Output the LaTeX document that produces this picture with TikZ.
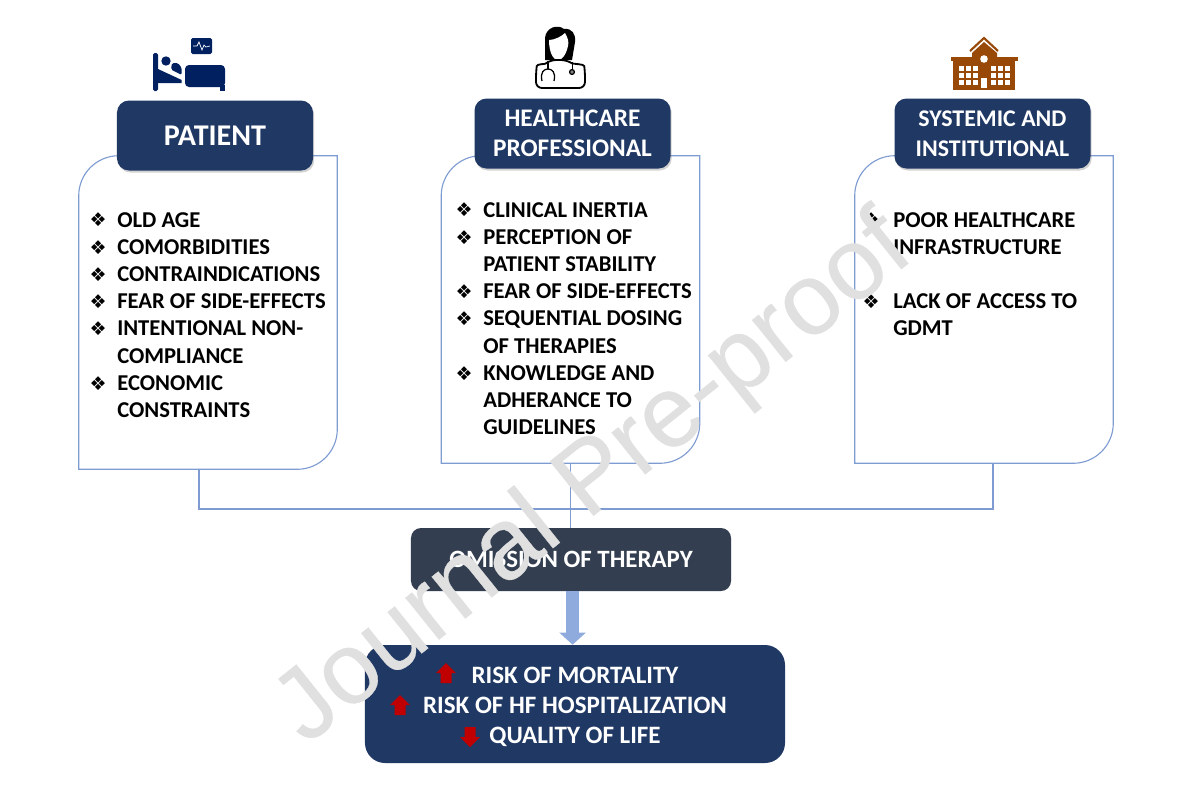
\documentclass[tikz,border=0pt]{standalone}
\usepackage{fontspec}
\setmainfont{Carlito}
\newfontfamily\symfont{DejaVu Sans}
\newfontfamily\stampfont[FakeBold=0.3]{Liberation Sans}
\usetikzlibrary{arrows.meta,shadows}
\definecolor{headblue}{HTML}{1F3864}
\definecolor{slatebox}{HTML}{333F50}
\definecolor{cardblue}{HTML}{7F9CD2}
\definecolor{flowblue}{HTML}{8FAADC}
\definecolor{iconnavy}{HTML}{002060}
\definecolor{brick}{HTML}{984807}
\definecolor{alarmred}{HTML}{C00000}
\definecolor{stampgrey}{HTML}{E0E0E0}
\tikzset{
  cardbox/.style={minimum width=64.5mm,inner sep=0pt},
  cardline/.style={cardblue,line width=0.8pt},
  headbox/.style={fill=headblue,rounded corners=3mm,minimum width=49mm,minimum height=17.5mm,
    inner sep=0pt,align=center,text=white,font=\bfseries\fontsize{18}{21.3}\selectfont,
    drop shadow={shadow xshift=0.3mm,shadow yshift=-0.5mm,opacity=0.35}},
  listtext/.style={anchor=north west,inner sep=0pt,align=left,text=black,
    font=\bfseries\fontsize{16.1}{19.35}\selectfont},
  stamp/.style={text=stampgrey,font=\stampfont\fontsize{72}{72}\selectfont},
}
\newcommand{\dia}[1][6.5mm]{\makebox[#1][l]{\raisebox{0.2pt}{\hspace*{-0.4mm}\symfont\fontsize{13.5}{13.5}\selectfont ❖}}}
\newcommand{\cont}{\hspace*{6.5mm}}
% card outline, two corners round
\newcommand{\cardoutline}[1]{
  \draw[cardline] (#1.north) -- (#1.north east) [rounded corners=10mm] -- (#1.south east)
    [sharp corners] -- (#1.south west) [rounded corners=10mm] -- (#1.north west) [sharp corners] -- (#1.north);
}
\newcommand{\redarrow}[3]{
  \fill[alarmred,shift={(#1,#2)},rotate=#3] (0,-10) -- (10,0) -- (5.5,0) -- (5.5,10) -- (-5.5,10) -- (-5.5,0) -- (-10,0) -- cycle;
}
\begin{document}
\begin{tikzpicture}[x=0.25mm,y=-0.25mm]
  \useasboundingbox[fill=white] (0,0) rectangle (1200,793);

  % Cards
  \node[cardbox,minimum height=78.25mm] (patientcard) at (208,312.5) {};
  \node[cardbox,minimum height=76.75mm] (profcard) at (570.5,309.5) {};
  \node[cardbox,minimum height=76.75mm] (syscard) at (984,309.5) {};
  \cardoutline{patientcard}
  \cardoutline{profcard}
  \cardoutline{syscard}

  % Headers
  \node[headbox,font=\bfseries\fontsize{21.4}{24}\selectfont] (patienthead) at (215,135.5) {PATIENT};
  \node[headbox] (profhead) at (572.5,133.5) {HEALTHCARE\\PROFESSIONAL};
  \node[headbox,font=\bfseries\fontsize{17}{21.3}\selectfont] (syshead) at (992.5,133.5) {SYSTEMIC AND\\INSTITUTIONAL};

  % Lists
  \node[listtext] (patientlist) at (91,212) {\dia OLD AGE\\\dia COMORBIDITIES\\\dia CONTRAINDICATIONS\\\dia FEAR OF SIDE-EFFECTS\\\dia INTENTIONAL NON-\\\cont COMPLIANCE\\\dia ECONOMIC\\\cont CONSTRAINTS};
  \node[listtext] (proflist) at (457,202) {\dia CLINICAL INERTIA\\\dia PERCEPTION OF\\\cont PATIENT STABILITY\\\dia FEAR OF SIDE-EFFECTS\\\dia SEQUENTIAL DOSING\\\cont OF THERAPIES\\\dia KNOWLEDGE AND\\\cont ADHERANCE TO\\\cont GUIDELINES};
  \node[listtext] (syslist) at (864,212) {\dia[7.25mm]POOR HEALTHCARE\\\hspace*{7.25mm}INFRASTRUCTURE\\[19.35pt]\dia[7.25mm]LACK OF ACCESS TO\\\hspace*{7.25mm}GDMT};

  % Lower boxes
  \node[fill=slatebox,rounded corners=2.5mm,minimum width=80mm,minimum height=15.75mm,inner sep=0pt,
    text=white,font=\bfseries\fontsize{17.7}{20}\selectfont] (omitbox) at (571,559.5) {OMISSION OF THERAPY};
  \node[fill=headblue,rounded corners=5mm,minimum width=105mm,minimum height=29.5mm,inner sep=0pt] (outcomebox) at (575,704) {};
  \node[align=center,inner sep=0pt,text=white,font=\bfseries\fontsize{17.8}{21.3}\selectfont] (outcometext) at (575,706.5) {RISK OF MORTALITY\\RISK OF HF HOSPITALIZATION\\QUALITY OF LIFE};
  \redarrow{446}{673}{0}
  \redarrow{400}{705}{0}
  \redarrow{470}{737}{180}

  % Connectors
  \coordinate (busleft) at (patientcard.south -| 199,0);
  \coordinate (busright) at (syscard.south -| 993,0);
  \draw[cardline] (busleft) -- (199,509) -- (993,509) -- (busright);
  \draw[cardline] (profcard.south) -- (profcard.south |- omitbox.north);
  \draw[flowblue,line width=3.25mm,-{Triangle[width=6.4mm,length=3mm]}] ([xshift=0.4mm]omitbox.south) -- ([xshift=0.4mm]omitbox.south |- outcomebox.north);

  % Bed icon
  \fill[iconnavy,rounded corners=0.4mm] (191,38) rectangle (212,54);
  \draw[white,line width=0.5pt] (193,46) -- (197,46) -- (199,42) -- (202,50) -- (204,45) -- (206,47) -- (210,46);
  \fill[iconnavy,rounded corners=0.4mm] (153,53) rectangle (158,91);
  \fill[iconnavy] (166,61) circle (4.7);
  \fill[iconnavy] (158,69) -- (181.7,80) -- (181.7,83) -- (158,83) -- cycle;
  \fill[iconnavy,rounded corners=0.4mm] (172,63) -- (178,63) -- (181.7,68) -- (181.7,75) -- (171,69.5) -- cycle;
  \fill[iconnavy,rounded corners=1mm] (185,65) rectangle (225,87);
  \fill[iconnavy] (220,85) rectangle (225,91);

  % Doctor icon
  \fill[black] (545,60) -- (545,38) .. controls (546,27) and (558,24) .. (564,29) .. controls (572,28) and (576,34) .. (575,42) -- (572,60) -- cycle;
  \fill[white] (549,40) .. controls (555,40) and (562,36) .. (565,33) .. controls (568,38) and (569,42) .. (568,46) .. controls (566,55) and (562,60) .. (558,60) .. controls (553,60) and (549,52) .. (549,40) -- cycle;
  \draw[black,line width=1.3pt,fill=white,rounded corners=1.5mm] (536,88) -- (536,72) .. controls (537,64) and (545,64) .. (550,60) -- (567,60) .. controls (573,64) and (584,64) .. (585,72) -- (585,88) -- cycle;
  \draw[black,line width=0.9pt] (548,61) -- (548,69);
  \draw[black,line width=0.9pt] (542,81) .. controls (540,72) and (544,69) .. (548,69) .. controls (552,69) and (556,72) .. (554,81);
  \draw[black,line width=0.7pt] (572,62) -- (572,69);
  \draw[black,line width=0.9pt,fill=gray] (572,72) circle (2.4);

  % Hospital icon
  \fill[brick] (951,57) rectangle (1018,61);
  \fill[brick] (953,60) rectangle (1015,90);
  \fill[brick] (972,53) -- (984,42) -- (997,53) -- (997,62) -- (972,62) -- cycle;
  \draw[brick,line width=1.5pt] (970,51) -- (984,38) -- (998,51);
  \fill[white] (984,59) circle (3.8);
  \foreach \colx in {959,966,973,991,998,1005}
    \foreach \rowy in {66,73,80}
      \fill[white] (\colx,\rowy) rectangle ++(5,4.5);
  \fill[white] (981,78) rectangle (987,88);

  % Watermark
  \node[stamp,rotate=38.7] (pressmark) at (595,481) {Journal Pre-proof};
\end{tikzpicture}
\end{document}
